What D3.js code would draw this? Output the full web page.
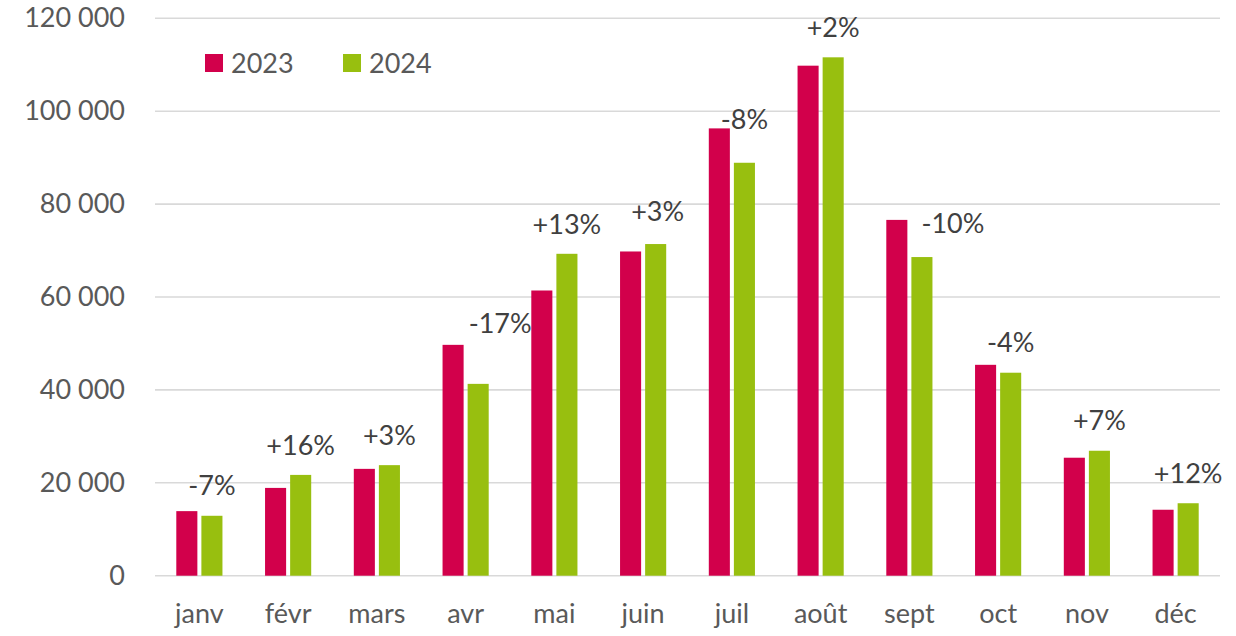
<!DOCTYPE html>
<html lang="fr">
  <head>
    <meta charset="utf-8">
    <title>2023 vs 2024 par mois</title>
    <style>
        body { margin: 0; background: #ffffff; }
        svg { display: block; font-family: Lato, "Open Sans", sans-serif; }
    </style>
    <script src="https://d3js.org/d3.v7.min.js"></script>
  </head>
  <body>
    <script>

    // data
    const months = ["janv","févr","mars","avr","mai","juin","juil","août","sept","oct","nov","déc"];
    const values2023 = [13900, 18900, 23000, 49700, 61400, 69800, 96300, 109800, 76600, 45400, 25400, 14200];
    const values2024 = [12900, 21700, 23800, 41300, 69300, 71400, 88900, 111600, 68600, 43700, 26900, 15600];
    const changeLabels = ["-7%","+16%","+3%","-17%","+13%","+3%","-8%","+2%","-10%","-4%","+7%","+12%"];
    const series = ["2023","2024"];
    const yTicks = [0, 20000, 40000, 60000, 80000, 100000, 120000];

    // hand-moved labels (as in the original sheet)
    const labelNudge = { "avr": [22, -31], "juil": [0, -13], "sept": [31, -4], "juin": [2, -3] };

    const width = 1236, height = 636;
    const colors = { "2023": "#d2004b", "2024": "#98bf0f" };

    const svg = d3.select("body")
        .append("svg")
        .attr("width", width)
        .attr("height", height);

    const x0 = d3.scaleBand()
        .domain(months)
        .range([155, 1220])
        .paddingInner(0.48)
        .paddingOuter(0.24);

    const x1 = d3.scaleBand()
        .domain(series)
        .range([0, x0.bandwidth()])
        .paddingInner(0.16);

    const y = d3.scaleLinear()
        .domain([0, 120000])
        .range([575.7, 18.3]);

    const fmt = d => d3.format(",")(d).replace(/,/g, " ");

    // grid
    svg.append("g")
        .selectAll("line")
        .data(yTicks)
        .join("line")
        .attr("x1", 155)
        .attr("x2", 1220)
        .attr("y1", d => y(d))
        .attr("y2", d => y(d))
        .attr("stroke", "#d9d9d9")
        .attr("stroke-width", 1.6);

    // y axis labels
    const yAxis = svg.append("g")
        .attr("transform", "translate(125,0)")
        .call(d3.axisLeft(y).tickValues(yTicks).tickFormat(fmt).tickSize(0).tickPadding(0));
    yAxis.select(".domain").remove();
    yAxis.selectAll("text")
        .style("font-family", "Lato, sans-serif")
        .style("font-size", "27px")
        .attr("fill", "#595959");

    // x axis labels
    const xAxis = svg.append("g")
        .attr("transform", "translate(0,604)")
        .call(d3.axisBottom(x0).tickSize(0).tickPadding(0));
    xAxis.select(".domain").remove();
    xAxis.selectAll("text")
        .style("font-family", "Lato, sans-serif")
        .style("font-size", "27px")
        .attr("fill", "#595959");

    const rows = months.map((m, i) => ({ month: m, "2023": values2023[i], "2024": values2024[i], label: changeLabels[i] }));

    // bars
    svg.append("g")
        .selectAll("g")
        .data(rows)
        .join("g")
        .attr("transform", d => `translate(${x0(d.month)},0)`)
        .selectAll("rect")
        .data(d => series.map(s => ({ key: s, value: d[s] })))
        .join("rect")
        .attr("x", d => x1(d.key))
        .attr("width", x1.bandwidth())
        .attr("y", d => y(d.value))
        .attr("height", d => y(0) - y(d.value))
        .attr("fill", d => colors[d.key]);

    // change labels above the 2024 bars
    svg.append("g")
        .selectAll("text")
        .data(rows)
        .join("text")
        .attr("x", d => x0(d.month) + x1("2024") + x1.bandwidth() / 2 + (labelNudge[d.month] ? labelNudge[d.month][0] : 0))
        .attr("y", d => y(d["2024"]) - 30 + (labelNudge[d.month] ? labelNudge[d.month][1] : 0))
        .attr("dy", "0.36em")
        .attr("text-anchor", "middle")
        .style("font-size", "27px")
        .attr("fill", "#404040")
        .text(d => d.label);

    // legend
    const legend = svg.append("g")
        .selectAll("g")
        .data(series)
        .join("g")
        .attr("transform", (d, i) => `translate(${205 + i * 138},54)`);
    legend.append("rect")
        .attr("width", 18)
        .attr("height", 18)
        .attr("fill", d => colors[d]);
    legend.append("text")
        .attr("x", 26)
        .attr("y", 18.5)
        .style("font-size", "27px")
        .attr("fill", "#595959")
        .text(d => d);
    </script>
  </body>
</html>
